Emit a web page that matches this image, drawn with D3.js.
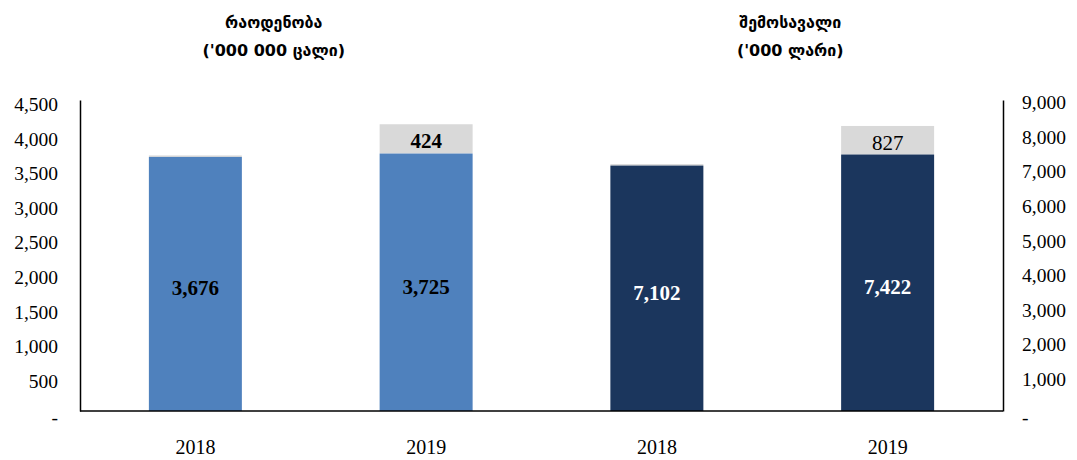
<!DOCTYPE html>
<html>
<head>
<meta charset="utf-8">
<script src="https://cdn.jsdelivr.net/npm/d3@7"></script>
<style>
  body { margin: 0; background: #fff; }
  svg text { font-family: "Liberation Serif", "DejaVu Serif", serif; }
  .title { font-family: "DejaVu Sans", "Noto Sans", sans-serif; font-weight: bold; font-size: 16px; }
</style>
</head>
<body>
<div id="chart"></div>
<script>
// chart data
const categories = ["2018", "2019", "2018", "2019"];
const baseValues = [3676, 3725, 7102, 7422];
const extraValues = [0, 424, 0, 827];
const axisSide = ["left", "left", "right", "right"];
const leftTicks = [0, 500, 1000, 1500, 2000, 2500, 3000, 3500, 4000, 4500];
const rightTicks = [0, 1000, 2000, 3000, 4000, 5000, 6000, 7000, 8000, 9000];
const titles = [["რაოდენობა", "('000 000 ცალი)"], ["შემოსავალი", "('000 ლარი)"]];

const width = 1077, height = 460;
const margin = {top: 100, right: 74, bottom: 49, left: 80};
const innerW = width - margin.left - margin.right;
const innerH = height - margin.top - margin.bottom;

const svg = d3.select("#chart").append("svg")
  .attr("width", width)
  .attr("height", height);

const g = svg.append("g")
  .attr("transform", "translate(" + margin.left + "," + margin.top + ")");

const x = d3.scaleBand()
  .domain(d3.range(categories.length))
  .range([0, innerW])
  .paddingInner(0.597)
  .paddingOuter(0.2985);

const yLeft = d3.scaleLinear().domain([0, 4500]).range([innerH, 0]);
const yRight = d3.scaleLinear().domain([0, 9000]).range([innerH, 0]);

const fmt = d3.format(",");
const tickFmt = d => d === 0 ? "-" : fmt(d);

// axes
const leftAxis = g.append("g")
  .call(d3.axisLeft(yLeft).tickValues(leftTicks).tickFormat(tickFmt).tickSize(0).tickPadding(22));
const rightAxis = g.append("g")
  .attr("transform", "translate(" + innerW + ",0)")
  .call(d3.axisRight(yRight).tickValues(rightTicks).tickFormat(tickFmt).tickSize(0).tickPadding(19));

[leftAxis, rightAxis].forEach((a, k) => {
  a.select(".domain").attr("stroke", "#000").attr("stroke-width", 1.5);
  a.selectAll("text").attr("font-size", 19.5).attr("fill", "#000")
    .attr("font-family", "Liberation Serif, serif")
    .attr("dy", k === 0 ? "0.55em" : "0.45em");
  a.selectAll(".tick").filter(d => d === 0).select("text").attr("dy", "0.65em");
});

const colors = ["#4f81bd", "#4f81bd", "#1b365d", "#1b365d"];
const labelColors = ["#000", "#000", "#fff", "#fff"];

const bars = g.selectAll(".bar")
  .data(categories.map((c, i) => ({
    i: i, cat: c, base: baseValues[i], extra: extraValues[i],
    y: axisSide[i] === "left" ? yLeft : yRight
  })))
  .enter().append("g")
  .attr("class", "bar");

// gray top segment (zero height shows as thin line)
bars.append("rect")
  .attr("x", d => x(d.i))
  .attr("width", x.bandwidth())
  .attr("y", d => d.y(d.base + d.extra) - (d.extra === 0 ? 1.5 : 0))
  .attr("height", d => d.y(d.base) - d.y(d.base + d.extra) + (d.extra === 0 ? 1.5 : 0))
  .attr("fill", "#d9d9d9");

bars.append("rect")
  .attr("x", d => x(d.i))
  .attr("width", x.bandwidth())
  .attr("y", d => d.y(d.base))
  .attr("height", d => innerH - d.y(d.base))
  .attr("fill", d => colors[d.i]);

bars.append("text")
  .attr("x", d => x(d.i) + x.bandwidth() / 2)
  .attr("y", d => (d.y(d.base) + innerH) / 2 + 4)
  .attr("text-anchor", "middle")
  .attr("dy", "0.35em")
  .attr("font-size", 21)
  .attr("font-weight", "bold")
  .attr("fill", d => labelColors[d.i])
  .text(d => fmt(d.base));

bars.filter(d => d.extra > 0).append("text")
  .attr("x", d => x(d.i) + x.bandwidth() / 2)
  .attr("y", d => (d.y(d.base) + d.y(d.base + d.extra)) / 2 + 2)
  .attr("text-anchor", "middle")
  .attr("dy", "0.35em")
  .attr("font-size", 21)
  .attr("font-weight", d => d.i < 2 ? "bold" : "normal")
  .attr("fill", "#000")
  .text(d => fmt(d.extra));

// bottom baseline
g.append("line")
  .attr("x1", 0).attr("x2", innerW)
  .attr("y1", innerH).attr("y2", innerH)
  .attr("stroke", "#000").attr("stroke-width", 1.5);

// category labels
g.selectAll(".cat")
  .data(categories)
  .enter().append("text")
  .attr("x", (d, i) => x(i) + x.bandwidth() / 2)
  .attr("y", innerH + 43)
  .attr("text-anchor", "middle")
  .attr("font-size", 20)
  .text(d => d);

// titles (centred over each pair, nudged as in the original)
const titleX = [
  (x(0) + x(1) + x.bandwidth()) / 2 - 37,
  (x(2) + x(3) + x.bandwidth()) / 2 + 18
];
titles.forEach((t, k) => {
  const tt = svg.append("text")
    .attr("class", "title")
    .attr("text-anchor", "middle");
  t.forEach((line, j) => {
    tt.append("tspan")
      .attr("x", margin.left + titleX[k])
      .attr("y", 28 + j * 28)
      .text(line);
  });
});
</script>
</body>
</html>
